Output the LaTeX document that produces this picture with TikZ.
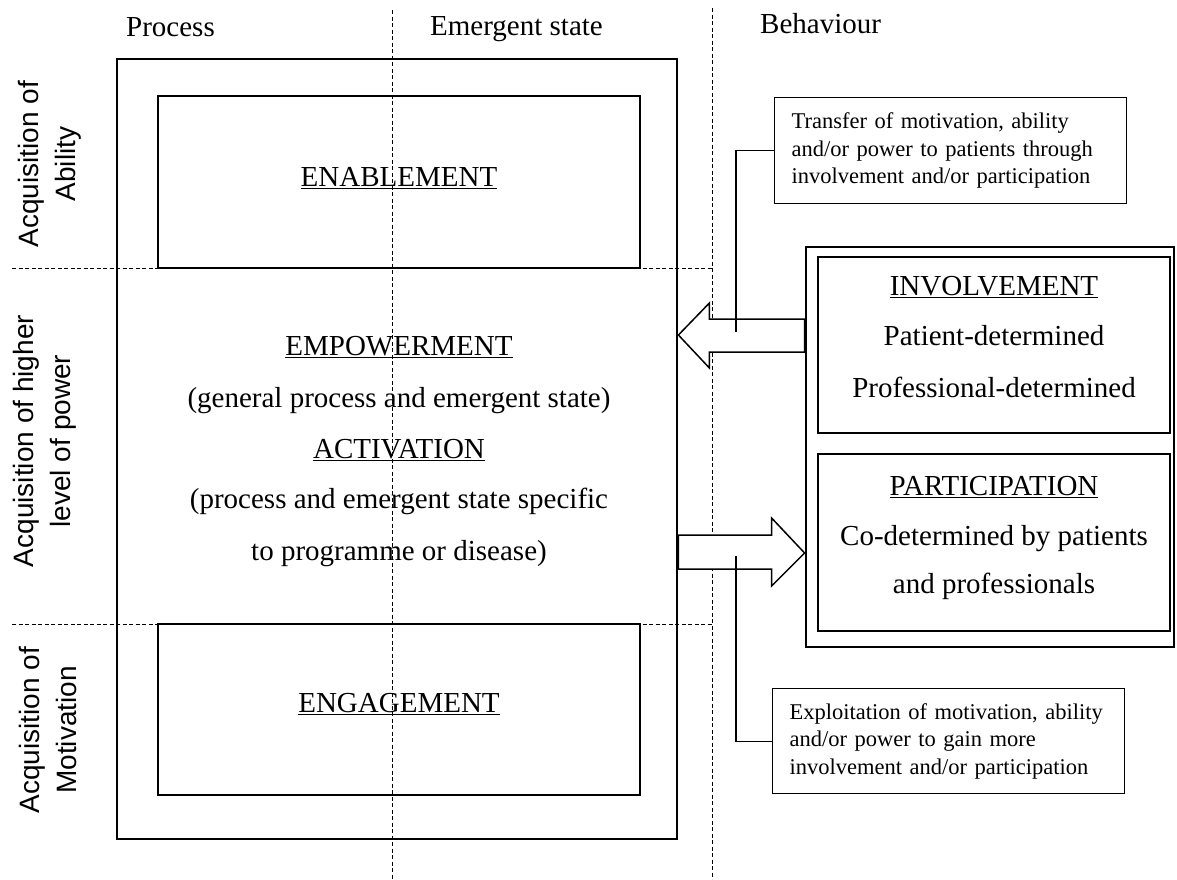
\documentclass[tikz,border=0pt]{standalone}
\usepackage{fontspec}
\setmainfont{Liberation Serif}
\newfontfamily\sidefont{Liberation Sans}
\newfontfamily\notefont{Liberation Serif}[WordSpace=0.6]
\usetikzlibrary{calc}
\pgfdeclarelayer{background}
\pgfsetlayers{background,main}
% underlined heading with a rule of fixed offset and thickness
\newcommand\undl[1]{\setbox0\hbox{#1}\rlap{\rule[-3pt]{\wd0}{1.1pt}}\box0}
% no word breaking inside the note boxes
\newcommand\nohyph{\hyphenpenalty 10000 \exhyphenpenalty 10000 }

\begin{document}
\begin{tikzpicture}[x=1pt,y=-1pt,
  thickbox/.style={draw, line width=2.8pt, inner sep=0pt},
  thinbox/.style={draw, line width=1.3pt, inner sep=0pt},
  txt/.style={font=\fontsize{29}{35}\selectfont, inner sep=0pt},
  notebox/.style={draw, line width=1.3pt, fill=white, align=left,
    font=\notefont\fontsize{22.5}{27.5}\selectfont\nohyph,
    inner xsep=17pt, inner ysep=0pt, text width=318pt, minimum height=106pt},
  sidelabel/.style={rotate=90, align=center,
    font=\sidefont\fontsize{28}{37}\selectfont, inner sep=0pt},
  guide/.style={dash pattern=on 4pt off 2.5pt, line width=0.9pt},
  conn/.style={line width=1.2pt},
  blockarrow/.style={draw, line width=1.5pt, fill=white, line join=miter}]

\useasboundingbox (0,0) rectangle (1177,879);

% column headings
\node[txt, anchor=base west] (process) at (126,36) {Process};
\node[txt, anchor=base west] (emergent) at (430,35) {Emergent state};
\node[txt, anchor=base west] (behaviour) at (760,33) {Behaviour};

% row headings
\node[sidelabel] (rowAbility) at (50,164) {Acquisition of\\Ability};
\node[sidelabel] (rowPower) at (45,441) {Acquisition of higher\\level of power};
\node[sidelabel] (rowMotivation) at (48,730) {Acquisition of\\Motivation};

% central frame with its two inner boxes
\node[thickbox, minimum width=560pt, minimum height=780pt] (outer) at (397,449) {};
\node[thinbox, minimum width=482pt, minimum height=172pt] (enab) at (399,182) {};
\node[thinbox, minimum width=482pt, minimum height=171pt] (engage) at (399,709.5) {};

\node[txt, anchor=base] (enabT) at (399,186) {\undl{ENABLEMENT}};
\node[txt, anchor=base] (engageT) at (399,712) {\undl{ENGAGEMENT}};

\node[txt, anchor=base] (empT) at (399,355) {\undl{EMPOWERMENT}};
\node[txt, anchor=base] (empD) at (399,407) {(general process and emergent state)};
\node[txt, anchor=base] (actT) at (399,458) {\undl{ACTIVATION}};
\node[txt, anchor=base] (actD1) at (399,508) {(process and emergent state specific};
\node[txt, anchor=base] (actD2) at (399,560) {to programme or disease)};

% behaviour frame
\node[thickbox, minimum width=368pt, minimum height=400pt] (behav) at (990,447) {};
\node[thinbox, minimum width=352pt, minimum height=176pt] (invol) at (994,345) {};
\node[thinbox, minimum width=352pt, minimum height=177pt] (partic) at (994,542.5) {};

\node[txt, anchor=base] (involT) at (994,295) {\undl{INVOLVEMENT}};
\node[txt, anchor=base] (involA) at (994,345) {Patient-determined};
\node[txt, anchor=base] (involB) at (994,397) {Professional-determined};
\node[txt, anchor=base] (particT) at (994,495) {\undl{PARTICIPATION}};
\node[txt, anchor=base] (particA) at (994,545) {Co-determined by patients};
\node[txt, anchor=base] (particB) at (994,593) {and professionals};

% explanatory notes
\node[notebox, anchor=north west] (transfer) at (774,97)
  {Transfer of motivation, ability\\and/or power to patients through\\involvement and/or participation};
\node[notebox, anchor=north west, minimum height=105pt] (exploit) at (772,688)
  {Exploitation of motivation, ability\\and/or power to gain more\\involvement and/or participation};

\begin{pgfonlayer}{background}
  % dashed grid
  \draw[guide] (12,268) -- (712,268);
  \draw[guide] (12,624) -- (712,624);
  \draw[guide] (392,10) -- (392,879);
  \draw[guide] (712,8) -- (712,879);
  % block arrows
  \coordinate (ar1) at (0,335);
  \coordinate (ar2) at (0,553);
  \draw[blockarrow] (outer.east |- ar1) -- ++(31,-32) -- ++(0,16) coordinate (s1)
    -- (behav.west |- s1) -- ++(0,33) coordinate (s2) -- (s2 -| s1) -- ++(0,16) -- cycle;
  \draw[blockarrow] (behav.west |- ar2) -- ++(-33,-35) -- ++(0,17) coordinate (s3)
    -- (outer.east |- s3) -- ++(0,34) coordinate (s4) -- (s4 -| s3) -- ++(0,17) -- cycle;
\end{pgfonlayer}

% note connectors
\coordinate (tEnd) at (736,332);
\coordinate (eEnd) at (736,556);
\draw[conn] (transfer.west) -| (tEnd);
\draw[conn] (exploit.west) -| (eEnd);

\end{tikzpicture}
\end{document}
